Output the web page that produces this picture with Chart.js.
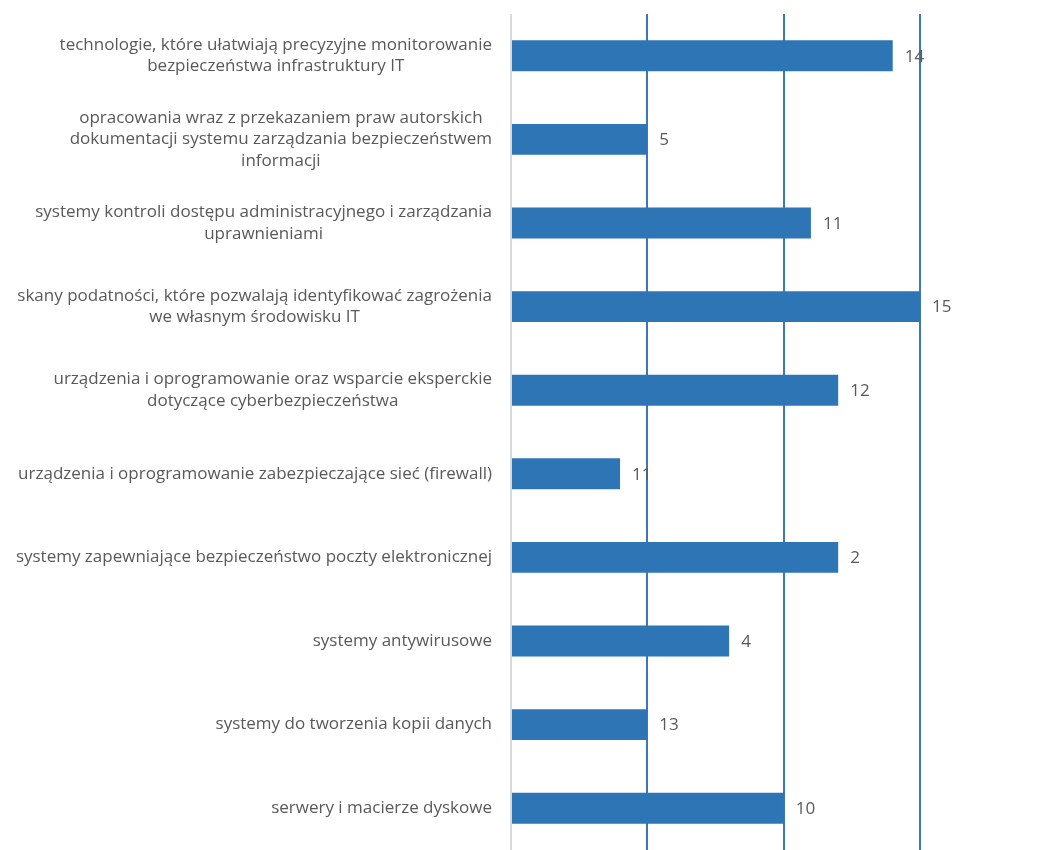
<!DOCTYPE html>
<html>
<head>
<meta charset="utf-8">
<script src="https://cdn.jsdelivr.net/npm/chart.js@4"></script>
<style>
  body { margin: 0; background: #fff; }
  canvas { display: block; }
</style>
</head>
<body>
<canvas id="chart" width="1049" height="850"></canvas>
<script>
const categories = [
    ['technologie, które ułatwiają precyzyjne monitorowanie', 'bezpieczeństwa infrastruktury IT'],
    ['opracowania wraz z przekazaniem praw autorskich', 'dokumentacji systemu zarządzania bezpieczeństwem', 'informacji'],
    ['systemy kontroli dostępu administracyjnego i zarządzania', 'uprawnieniami'],
    ['skany podatności, które pozwalają identyfikować zagrożenia', 'we własnym środowisku IT'],
    ['urządzenia i oprogramowanie oraz wsparcie eksperckie', 'dotyczące cyberbezpieczeństwa'],
    ['urządzenia i oprogramowanie zabezpieczające sieć (firewall)'],
    ['systemy zapewniające bezpieczeństwo poczty elektronicznej'],
    ['systemy antywirusowe'],
    ['systemy do tworzenia kopii danych'],
    ['serwery i macierze dyskowe']
];
const values = [14, 5, 11, 15, 12, 4, 12, 8, 5, 10];
// numbers printed next to the bars, as in the original
const valueLabels = ['14', '5', '11', '15', '12', '11', '2', '4', '13', '10'];

const textColor = '#595959';
const fontFamily = '"Open Sans", sans-serif';

// category labels: each block centred on itself, block right-aligned to the axis
const categoryLabels = {
    id: 'categoryLabels',
    afterDraw(chart) {
        const ctx = chart.ctx;
        const y = chart.scales.y;
        const right = chart.chartArea.left - 19;
        const lineH = 21.5;
        ctx.save();
        ctx.font = '17px ' + fontFamily;
        ctx.fillStyle = textColor;
        ctx.textAlign = 'center';
        ctx.textBaseline = 'middle';
        categories.forEach((lines, i) => {
            const w = Math.max(...lines.map(l => ctx.measureText(l).width));
            const cx = right - w / 2;
            const cy = y.getPixelForValue(i);
            const top = cy - (lines.length - 1) * lineH / 2;
            lines.forEach((l, j) => ctx.fillText(l, cx, top + j * lineH));
        });
        ctx.restore();
    }
};

const barLabels = {
    id: 'barLabels',
    afterDatasetsDraw(chart) {
        const ctx = chart.ctx;
        ctx.save();
        ctx.font = '17px ' + fontFamily;
        ctx.fillStyle = textColor;
        ctx.textAlign = 'left';
        ctx.textBaseline = 'middle';
        chart.getDatasetMeta(0).data.forEach((bar, i) => {
            ctx.fillText(valueLabels[i], bar.x + 12, bar.y + 1);
        });
        ctx.restore();
    }
};

new Chart(document.getElementById('chart'), {
    type: 'bar',
    data: {
        labels: categories,
        datasets: [{
            data: values,
            backgroundColor: '#2e75b6',
            borderWidth: 0,
            barPercentage: 0.37,
            categoryPercentage: 1
        }]
    },
    options: {
        indexAxis: 'y',
        responsive: false,
        animation: false,
        layout: { padding: { left: 511, right: 129, top: 14, bottom: 0 } },
        plugins: { legend: { display: false }, tooltip: { enabled: false } },
        scales: {
            x: {
                min: 0,
                max: 15,
                ticks: { display: false, stepSize: 5 },
                border: { display: false },
                grid: {
                    drawTicks: false,
                    lineWidth: 2,
                    color: c => c.tick && c.tick.value === 0 ? '#d9d9d9' : '#3b78b9'
                }
            },
            y: {
                ticks: { display: false },
                grid: { display: false, drawTicks: false },
                border: { display: true, color: '#d9d9d9', width: 1 }
            }
        }
    },
    plugins: [categoryLabels, barLabels]
});
</script>
</body>
</html>
